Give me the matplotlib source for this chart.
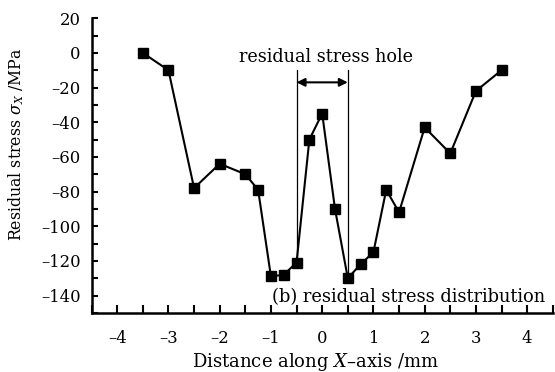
import matplotlib
matplotlib.use("Agg")
import matplotlib.pyplot as plt
from matplotlib.ticker import MultipleLocator

distance = [-3.5, -3.0, -2.5, -2.0, -1.5, -1.25, -1.0, -0.75, -0.5, -0.25, 0.0,
            0.25, 0.5, 0.75, 1.0, 1.25, 1.5, 2.0, 2.5, 3.0, 3.5]
stress = [0, -10, -78, -64, -70, -79, -129, -128, -121, -50, -35,
          -90, -130, -122, -115, -79, -92, -43, -58, -22, -10]
x_ticks = [-4, -3, -2, -1, 0, 1, 2, 3, 4]
y_ticks = [-140, -120, -100, -80, -60, -40, -20, 0, 20]
hole_left, hole_right = -0.5, 0.5

plt.rcParams['font.family'] = ['DejaVu Serif']
plt.rcParams['mathtext.fontset'] = 'dejavuserif'

fig = plt.figure(figsize=(5.55, 3.72), dpi=100)
ax = fig.add_axes([0.165, 0.159, 0.831, 0.792])

ax.plot(distance, stress, color='black', lw=1.5, marker='s', ms=7,
        mfc='black', mec='black')

# hole boundary lines
yl = stress[distance.index(hole_left)]
yr = stress[distance.index(hole_right)]
ax.plot([hole_left, hole_left], [-10, yl], color='black', lw=0.9)
ax.plot([hole_right, hole_right], [-10, yr], color='black', lw=0.9)
ax.annotate('', xy=(hole_left, -17), xytext=(hole_right, -17),
            arrowprops=dict(arrowstyle='<|-|>', color='black', lw=1.5,
                            mutation_scale=12, shrinkA=0, shrinkB=0))
ax.text(0.08, -2.5, 'residual stress hole', ha='center', va='center', fontsize=12.7)
ax.text(4.36, -141, '(b) residual stress distribution', ha='right', va='center',
        fontsize=12.9)

ax.set_xlim(-4.5, 4.5)
ax.set_ylim(-150, 20)
ax.set_xticks(x_ticks)
ax.set_yticks(y_ticks)
ax.set_xticklabels(['\u2013' + str(abs(v)) if v < 0 else str(v) for v in x_ticks])
ax.set_yticklabels(['\u2013' + str(abs(v)) if v < 0 else str(v) for v in y_ticks])
ax.xaxis.set_minor_locator(MultipleLocator(0.5))
ax.yaxis.set_minor_locator(MultipleLocator(10))
ax.tick_params(axis='both', which='both', direction='in', labelsize=11.8, width=1.5)
ax.tick_params(axis='x', which='both', length=6, pad=12)
ax.tick_params(axis='y', which='both', length=4, pad=8)

for s in ['top', 'right']:
    ax.spines[s].set_visible(False)
for s in ['left', 'bottom']:
    ax.spines[s].set_linewidth(1.8)

ax.set_xlabel('Distance along $X$\u2013axis /mm', fontsize=13)
ax.set_ylabel('Residual stress $\\sigma_X$ /MPa', fontsize=11.3)
ax.xaxis.set_label_coords(0.486, -0.128)
ax.yaxis.set_label_coords(-0.142, 0.573)

fig.savefig('out.png', dpi=100)
